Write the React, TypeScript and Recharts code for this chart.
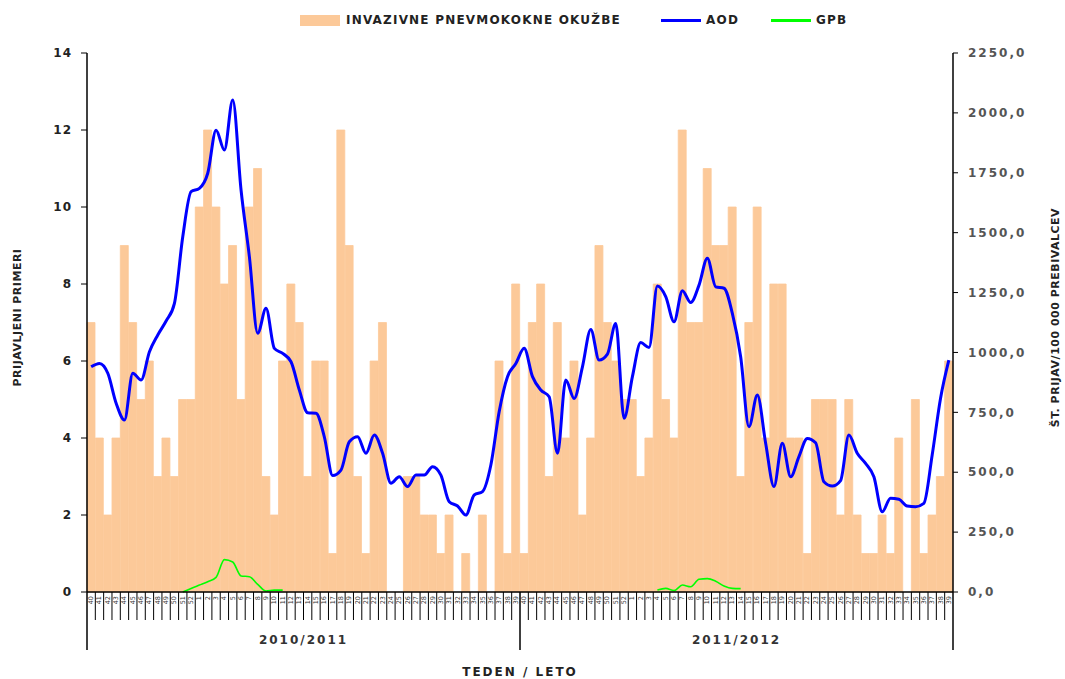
import { ComposedChart, Bar, Line, XAxis, YAxis, Legend } from "recharts"

const FONT = '"DejaVu Sans", Verdana, sans-serif'
const BAR_COLOR = "#FCC999"
const AOD_COLOR = "#0000FF"
const GPB_COLOR = "#00FF00"

const CHART_W = 1065
const CHART_H = 679
const LEFT_W = 87
const RIGHT_W = 112
const TOP = 53
const X_H = 87
const PLOT_W = CHART_W - LEFT_W - RIGHT_W

const SEASONS = ["2010/2011", "2011/2012"]
const SEASON_LEN = 52

// week number of each bar, two seasons of 52 weeks
const WEEKS = [
  40, 41, 42, 43, 44, 45, 46, 47, 48, 49, 50, 51, 52, 1, 2, 3, 4, 5, 6, 7, 8, 9, 10, 11, 12, 13,
  14, 15, 16, 17, 18, 19, 20, 21, 22, 23, 24, 25, 26, 27, 28, 29, 30, 31, 32, 33, 34, 35, 36, 37, 38, 39,
  40, 41, 42, 43, 44, 45, 46, 47, 48, 49, 50, 51, 52, 1, 2, 3, 4, 5, 6, 7, 8, 9, 10, 11, 12, 13,
  14, 15, 16, 17, 18, 19, 20, 21, 22, 23, 24, 25, 26, 27, 28, 29, 30, 31, 32, 33, 34, 35, 36, 37, 38, 39,
]

// invazivne pnevmokokne okužbe (left axis)
const INVASIVE = [
  7, 4, 2, 4, 9, 7, 5, 6, 3, 4, 3, 5, 5, 10, 12, 10, 8, 9, 5, 10, 11, 3, 2, 6, 8, 7,
  3, 6, 6, 1, 12, 9, 3, 1, 6, 7, 0, 0, 3, 3, 2, 2, 1, 2, 0, 1, 0, 2, 0, 6, 1, 8,
  1, 7, 8, 3, 7, 4, 6, 2, 4, 9, 7, 6, 5, 5, 3, 4, 8, 5, 4, 12, 7, 7, 11, 9, 9, 10,
  3, 7, 10, 4, 8, 8, 4, 4, 1, 5, 5, 5, 2, 5, 2, 1, 1, 2, 1, 4, 0, 5, 1, 2, 3, 6,
]

// AOD per 100 000 (right axis)
const AOD = [
  940, 954, 913, 788, 718, 913, 885, 1003, 1073, 1131, 1205, 1483, 1671, 1685, 1748, 1928, 1845, 2054, 1678, 1400, 1080, 1184, 1017, 996, 961, 843,
  748, 746, 648, 486, 509, 627, 648, 579, 655, 579, 454, 481, 440, 488, 488, 523, 488, 377, 359, 321, 405, 419, 530, 753, 899, 954,
  1017, 899, 843, 815, 579, 885, 808, 940, 1096, 968, 993, 1121, 725, 899, 1041, 1021, 1277, 1233, 1128, 1258, 1208, 1281, 1393, 1274, 1268, 1163,
  982, 690, 822, 621, 440, 621, 481, 565, 641, 623, 460, 442, 465, 655, 579, 537, 481, 335, 391, 387, 359, 356, 370, 572, 808, 968,
]

// GPB per 100 000 (right axis), only reported in the flu weeks
const GPB = [
  null, null, null, null, null, null, null, null, null, null, null,
  0, 15, 29, 43, 61, 135, 125, 67, 64, 32, 4, 8, 8,
  null, null, null, null, null, null, null, null, null, null, null,
  null, null, null, null, null, null, null, null, null, null, null,
  null, null, null, null, null, null, null, null, null, null, null,
  null, null, null, null, null, null, null, null, null, null, null,
  8, 15, 6, 29, 22, 53, 56, 45, 25, 15, 14,
  null, null, null, null, null, null, null, null, null, null, null,
  null, null, null, null, null, null, null, null, null, null, null,
  null, null, null,
]

const LEFT_TICKS = [0, 2, 4, 6, 8, 10, 12, 14]
const RIGHT_TICKS = [0, 250, 500, 750, 1000, 1250, 1500, 1750, 2000, 2250]

const data = WEEKS.map((week, i) => ({
  id: `${SEASONS[Math.floor(i / SEASON_LEN)]}-${week}`,
  invasive: INVASIVE[i],
  aod: AOD[i],
  gpb: GPB[i],
}))

const BAND = PLOT_W / WEEKS.length

function WeekTick(props: any) {
  const { x, y, index } = props
  const left = x - BAND / 2
  const right = x + BAND / 2
  const seasonStart = index % SEASON_LEN === 0
  const last = index === WEEKS.length - 1
  const seasonMid = index % SEASON_LEN === SEASON_LEN / 2 - 1
  return (
    <g>
      <line x1={left} y1={y} x2={left} y2={y + (seasonStart ? 58 : 28)} stroke="#000" strokeWidth={seasonStart ? 1.5 : 1} />
      {last && <line x1={right} y1={y} x2={right} y2={y + 58} stroke="#000" strokeWidth={1.5} />}
      <text
        x={x}
        y={y + 4}
        transform={`rotate(-90, ${x}, ${y + 4})`}
        textAnchor="end"
        dominantBaseline="central"
        fontSize={6.5}
        fontFamily={FONT}
        fill="#333"
      >
        {WEEKS[index]}
      </text>
      {seasonMid && (
        <text
          x={right}
          y={y + 52}
          textAnchor="middle"
          fontSize={12}
          fontWeight={700}
          letterSpacing={2}
          fontFamily={FONT}
          fill="#333"
        >
          {SEASONS[Math.floor(index / SEASON_LEN)]}
        </text>
      )}
    </g>
  )
}

function LegendContent() {
  const text = { position: "absolute" as const, top: 13, whiteSpace: "nowrap" as const, letterSpacing: 1.2 }
  return (
    <div style={{ position: "relative", width: CHART_W, height: 30, fontFamily: FONT, fontSize: 12, fontWeight: 700, color: "#222" }}>
      <span style={{ position: "absolute", left: 300, top: 15, width: 40, height: 11, background: BAR_COLOR }} />
      <span style={{ ...text, left: 346 }}>INVAZIVNE PNEVMOKOKNE OKUŽBE</span>
      <span style={{ position: "absolute", left: 661, top: 19, width: 40, height: 3, background: AOD_COLOR }} />
      <span style={{ ...text, left: 706 }}>AOD</span>
      <span style={{ position: "absolute", left: 771, top: 19, width: 40, height: 3, background: GPB_COLOR }} />
      <span style={{ ...text, left: 816 }}>GPB</span>
    </div>
  )
}

const titleStyle = { fontFamily: FONT, fontSize: 11, fontWeight: 700, fill: "#222", letterSpacing: 0.5 }

export default function App() {
  return (
    <div style={{ position: "absolute", left: 0, top: 0, background: "#fff" }}>
      <ComposedChart
        width={CHART_W}
        height={CHART_H}
        data={data}
        margin={{ top: TOP, right: 0, bottom: 0, left: 0 }}
        barCategoryGap={0}
        barGap={0}
      >
        <Legend
          verticalAlign="middle"
          align="center"
          layout="horizontal"
          wrapperStyle={{ top: 0, left: 0 }}
          content={LegendContent}
        />
        <XAxis
          xAxisId="week"
          dataKey="id"
          height={X_H}
          interval={0}
          tickSize={0}
          tickMargin={0}
          tickLine={false}
          axisLine={{ stroke: "#000", strokeWidth: 1.5 }}
          tick={WeekTick}
          label={{
            content: ({ viewBox }: any) => (
              <text x={viewBox.x + viewBox.width / 2} y={viewBox.y + 84} textAnchor="middle" {...titleStyle} letterSpacing={2} fontSize={12}>
                TEDEN / LETO
              </text>
            ),
          }}
        />
        <YAxis
          yAxisId="left"
          width={LEFT_W}
          domain={[0, 14]}
          ticks={LEFT_TICKS}
          tickSize={6}
          tickMargin={9}
          axisLine={{ stroke: "#000", strokeWidth: 1.5 }}
          tickLine={{ stroke: "#000" }}
          tick={{ fontSize: 12, fontWeight: 700, fill: "#222", fontFamily: FONT, letterSpacing: 1 }}
          label={{
            content: ({ viewBox }: any) => {
              const cx = viewBox.x + 17
              const cy = viewBox.y + viewBox.height / 2 - 5
              return (
                <text x={cx} y={cy} transform={`rotate(-90, ${cx}, ${cy})`} textAnchor="middle" dominantBaseline="central" {...titleStyle}>
                  PRIJAVLJENI PRIMERI
                </text>
              )
            },
          }}
        />
        <YAxis
          yAxisId="right"
          orientation="right"
          width={RIGHT_W}
          domain={[0, 2250]}
          ticks={RIGHT_TICKS}
          tickSize={5}
          tickMargin={10}
          axisLine={{ stroke: "#000", strokeWidth: 1.5 }}
          tickLine={{ stroke: "#000" }}
          tickFormatter={(v: number) => v.toFixed(1).replace(".", ",")}
          tick={{ fontSize: 12, fontWeight: 700, fill: "#555", fontFamily: FONT, letterSpacing: 2 }}
          label={{
            content: ({ viewBox }: any) => {
              const cx = viewBox.x + 102
              const cy = viewBox.y + viewBox.height / 2 - 5
              return (
                <text x={cx} y={cy} transform={`rotate(-90, ${cx}, ${cy})`} textAnchor="middle" dominantBaseline="central" {...titleStyle}>
                  ŠT. PRIJAV/100 000 PREBIVALCEV
                </text>
              )
            },
          }}
        />
        <Bar
          xAxisId="week"
          yAxisId="left"
          dataKey="invasive"
          fill={BAR_COLOR}
          stroke={BAR_COLOR}
          strokeWidth={0.8}
          isAnimationActive={false}
        />
        <Line
          xAxisId="week"
          yAxisId="right"
          dataKey="aod"
          type="monotone"
          stroke={AOD_COLOR}
          strokeWidth={3}
          dot={false}
          isAnimationActive={false}
        />
        <Line
          xAxisId="week"
          yAxisId="right"
          dataKey="gpb"
          type="monotone"
          stroke={GPB_COLOR}
          strokeWidth={1.6}
          dot={false}
          connectNulls={false}
          isAnimationActive={false}
        />
      </ComposedChart>
    </div>
  )
}
